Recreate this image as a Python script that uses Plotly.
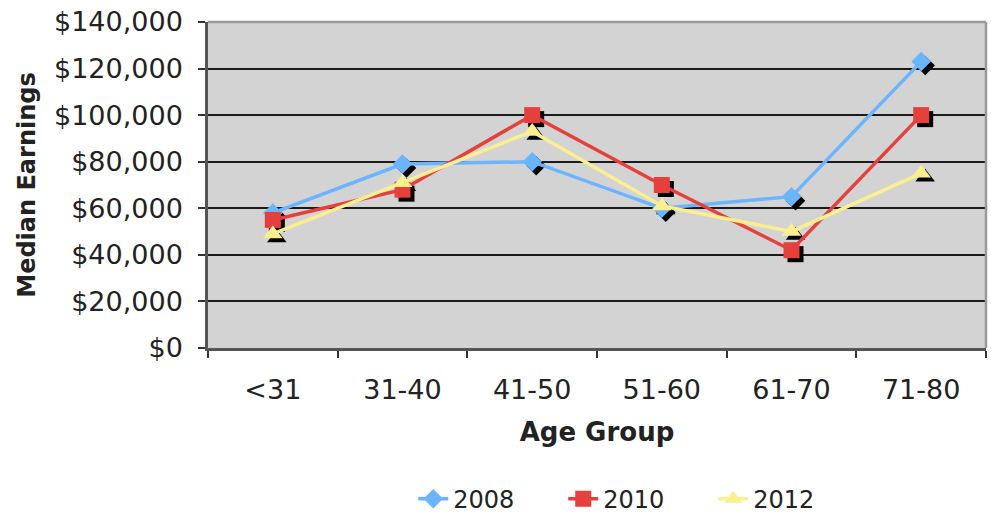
import plotly.graph_objects as go

age_groups = ["<31", "31-40", "41-50", "51-60", "61-70", "71-80"]
earn_2008 = [58000, 79000, 80000, 60000, 65000, 123000]
earn_2010 = [55000, 68000, 100000, 70000, 42000, 100000]
earn_2012 = [49000, 71000, 93000, 61000, 50000, 75000]
series_names = ["2008", "2010", "2012"]

W, H = 991, 515
ML, MR, MT, MB = 208, 5, 22, 167
PW, PH = W - ML - MR, H - MT - MB
YMAX = 140000
SH = 4  # shadow offset px
dx = SH * 6 / PW
dy = SH * YMAX / PH

colors = ["#6bb5ff", "#e6403d", "#fbef8f"]
symbols = ["diamond", "square", "triangle-up"]
sizes = [15, 16, 17]
data = [earn_2008, earn_2010, earn_2012]

fig = go.Figure()
# shadows on base (hidden) axes
for vals, sym, sz in zip(data, symbols, sizes):
    fig.add_trace(go.Scatter(x=age_groups, y=vals, mode="markers", xaxis="x", yaxis="y",
                             marker=dict(symbol=sym, size=sz, color="black"),
                             showlegend=False, hoverinfo="skip"))
for name, vals, col, sym, sz in zip(series_names, data, colors, symbols, sizes):
    fig.add_trace(go.Scatter(x=age_groups, y=vals, name=name, mode="lines+markers",
                             xaxis="x2", yaxis="y2",
                             line=dict(color=col, width=3.5),
                             marker=dict(symbol=sym, size=sz, color=col)))

font = dict(family="DejaVu Sans, Verdana, sans-serif", size=24, color="#222")
fig.update_layout(
    width=W, height=H,
    margin=dict(l=ML, r=MR, t=MT, b=MB),
    paper_bgcolor="white", plot_bgcolor="#d3d3d3",
    font=font,
    xaxis=dict(type="category", categoryorder="array", categoryarray=age_groups,
               range=[-0.5 - dx, 5.5 - dx], visible=False, showgrid=False, automargin=False),
    yaxis=dict(range=[dy, YMAX + dy], visible=False, showgrid=False, automargin=False),
    xaxis2=dict(type="category", categoryorder="array", categoryarray=age_groups,
                overlaying="x", anchor="y2", range=[-0.5, 5.5], automargin=False,
                showline=True, linecolor="#555", linewidth=2.5,
                ticks="outside", tickson="boundaries", ticklen=7, tickwidth=2, tickcolor="#333",
                ticklabelstandoff=16, showgrid=False, tickfont=dict(size=27),
                title=dict(text="<b>Age Group</b>", standoff=19, font=dict(size=26))),
    yaxis2=dict(overlaying="y", anchor="x2", range=[0, YMAX], dtick=20000,
                tickprefix="$", tickformat=",.0f", automargin=False,
                ticklabeloverflow="allow",
                showline=True, linecolor="#555", linewidth=2.5,
                ticks="outside", ticklen=7, tickwidth=2, tickcolor="#333",
                ticklabelstandoff=10, tickfont=dict(size=27),
                showgrid=True, gridcolor="#1a1a1a", gridwidth=2, zeroline=False,
                title=dict(text="<b>Median Earnings</b>", standoff=12, font=dict(size=24))),
    legend=dict(orientation="h", x=0.553, xanchor="center", xref="paper",
                yref="container", y=0.031, yanchor="middle",
                font=dict(size=24), bgcolor="rgba(0,0,0,0)", entrywidth=105),
    shapes=[dict(type="line", xref="paper", yref="paper", x0=0, x1=1, y0=1, y1=1,
                 line=dict(color="#999", width=2.5)),
            dict(type="line", xref="paper", yref="paper", x0=1, x1=1, y0=0, y1=1,
                 line=dict(color="#999", width=2.5))],
)

fig.write_html("out.html", config={"displayModeBar": False},
               post_script="document.body.style.margin='0';document.body.style.overflow='hidden';")
